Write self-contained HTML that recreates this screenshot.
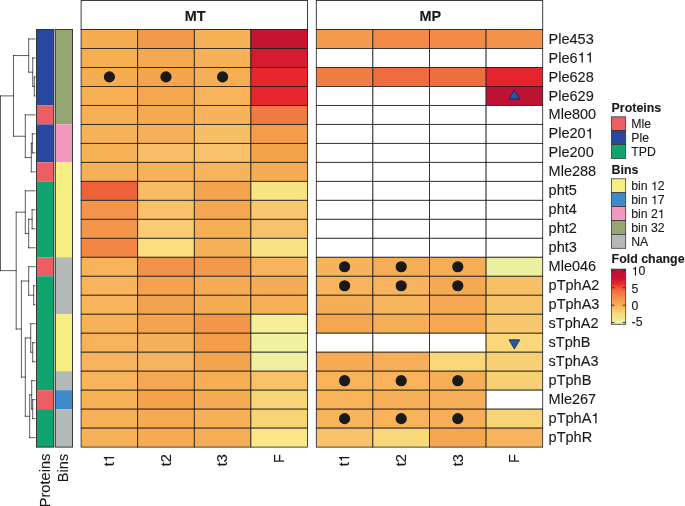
<!DOCTYPE html>
<html><head><meta charset="utf-8"><title>Heatmap</title>
<style>html,body{margin:0;padding:0;background:#fff;width:685px;height:506px;overflow:hidden}</style>
</head><body>
<svg width="685" height="506" viewBox="0 0 685 506" style="position:absolute;left:0;top:0;will-change:transform;font-kerning:none;font-family:'Liberation Sans',sans-serif">
<rect x="0" y="0" width="685" height="506" fill="#fff"/>
<rect x="81.1" y="0.5" width="226.40" height="28.95" fill="#fff" stroke="#2a2a2a" stroke-width="0.9"/>
<text transform="translate(195.10,21.00)" text-anchor="middle" font-size="14.4" fill="#1a1a1a" stroke="#1a1a1a" stroke-width="0.12" font-weight="bold">MT</text>
<rect x="81.10" y="29.45" width="56.60" height="18.98" fill="#F6AC50" stroke="#1c1c1c" stroke-width="0.8"/>
<rect x="137.70" y="29.45" width="56.60" height="18.98" fill="#F39A4A" stroke="#1c1c1c" stroke-width="0.8"/>
<rect x="194.30" y="29.45" width="56.60" height="18.98" fill="#F6B055" stroke="#1c1c1c" stroke-width="0.8"/>
<rect x="250.90" y="29.45" width="56.60" height="18.98" fill="#C41432" stroke="#1c1c1c" stroke-width="0.8"/>
<rect x="81.10" y="48.44" width="56.60" height="18.98" fill="#F7AE52" stroke="#1c1c1c" stroke-width="0.8"/>
<rect x="137.70" y="48.44" width="56.60" height="18.98" fill="#F5A850" stroke="#1c1c1c" stroke-width="0.8"/>
<rect x="194.30" y="48.44" width="56.60" height="18.98" fill="#F6B056" stroke="#1c1c1c" stroke-width="0.8"/>
<rect x="250.90" y="48.44" width="56.60" height="18.98" fill="#D41C30" stroke="#1c1c1c" stroke-width="0.8"/>
<rect x="81.10" y="67.42" width="56.60" height="18.98" fill="#F6AC50" stroke="#1c1c1c" stroke-width="0.8"/>
<rect x="137.70" y="67.42" width="56.60" height="18.98" fill="#F5A54E" stroke="#1c1c1c" stroke-width="0.8"/>
<rect x="194.30" y="67.42" width="56.60" height="18.98" fill="#F6AE54" stroke="#1c1c1c" stroke-width="0.8"/>
<rect x="250.90" y="67.42" width="56.60" height="18.98" fill="#E8262E" stroke="#1c1c1c" stroke-width="0.8"/>
<rect x="81.10" y="86.41" width="56.60" height="18.98" fill="#F7AF54" stroke="#1c1c1c" stroke-width="0.8"/>
<rect x="137.70" y="86.41" width="56.60" height="18.98" fill="#F5A64E" stroke="#1c1c1c" stroke-width="0.8"/>
<rect x="194.30" y="86.41" width="56.60" height="18.98" fill="#F7B25A" stroke="#1c1c1c" stroke-width="0.8"/>
<rect x="250.90" y="86.41" width="56.60" height="18.98" fill="#E8262E" stroke="#1c1c1c" stroke-width="0.8"/>
<rect x="81.10" y="105.39" width="56.60" height="18.98" fill="#F7B056" stroke="#1c1c1c" stroke-width="0.8"/>
<rect x="137.70" y="105.39" width="56.60" height="18.98" fill="#F6AA50" stroke="#1c1c1c" stroke-width="0.8"/>
<rect x="194.30" y="105.39" width="56.60" height="18.98" fill="#F7B45C" stroke="#1c1c1c" stroke-width="0.8"/>
<rect x="250.90" y="105.39" width="56.60" height="18.98" fill="#EF7A44" stroke="#1c1c1c" stroke-width="0.8"/>
<rect x="81.10" y="124.38" width="56.60" height="18.98" fill="#F7B258" stroke="#1c1c1c" stroke-width="0.8"/>
<rect x="137.70" y="124.38" width="56.60" height="18.98" fill="#F6B05A" stroke="#1c1c1c" stroke-width="0.8"/>
<rect x="194.30" y="124.38" width="56.60" height="18.98" fill="#F8BE66" stroke="#1c1c1c" stroke-width="0.8"/>
<rect x="250.90" y="124.38" width="56.60" height="18.98" fill="#F49C4A" stroke="#1c1c1c" stroke-width="0.8"/>
<rect x="81.10" y="143.36" width="56.60" height="18.98" fill="#F7B258" stroke="#1c1c1c" stroke-width="0.8"/>
<rect x="137.70" y="143.36" width="56.60" height="18.98" fill="#F8BE68" stroke="#1c1c1c" stroke-width="0.8"/>
<rect x="194.30" y="143.36" width="56.60" height="18.98" fill="#F8C068" stroke="#1c1c1c" stroke-width="0.8"/>
<rect x="250.90" y="143.36" width="56.60" height="18.98" fill="#F5A24C" stroke="#1c1c1c" stroke-width="0.8"/>
<rect x="81.10" y="162.34" width="56.60" height="18.98" fill="#F7B056" stroke="#1c1c1c" stroke-width="0.8"/>
<rect x="137.70" y="162.34" width="56.60" height="18.98" fill="#F7B258" stroke="#1c1c1c" stroke-width="0.8"/>
<rect x="194.30" y="162.34" width="56.60" height="18.98" fill="#F7B45A" stroke="#1c1c1c" stroke-width="0.8"/>
<rect x="250.90" y="162.34" width="56.60" height="18.98" fill="#F6AC50" stroke="#1c1c1c" stroke-width="0.8"/>
<rect x="81.10" y="181.33" width="56.60" height="18.98" fill="#EE623A" stroke="#1c1c1c" stroke-width="0.8"/>
<rect x="137.70" y="181.33" width="56.60" height="18.98" fill="#F8BC64" stroke="#1c1c1c" stroke-width="0.8"/>
<rect x="194.30" y="181.33" width="56.60" height="18.98" fill="#F5A44E" stroke="#1c1c1c" stroke-width="0.8"/>
<rect x="250.90" y="181.33" width="56.60" height="18.98" fill="#F8E484" stroke="#1c1c1c" stroke-width="0.8"/>
<rect x="81.10" y="200.31" width="56.60" height="18.98" fill="#F3944A" stroke="#1c1c1c" stroke-width="0.8"/>
<rect x="137.70" y="200.31" width="56.60" height="18.98" fill="#F8C068" stroke="#1c1c1c" stroke-width="0.8"/>
<rect x="194.30" y="200.31" width="56.60" height="18.98" fill="#F5A650" stroke="#1c1c1c" stroke-width="0.8"/>
<rect x="250.90" y="200.31" width="56.60" height="18.98" fill="#F8C870" stroke="#1c1c1c" stroke-width="0.8"/>
<rect x="81.10" y="219.30" width="56.60" height="18.98" fill="#F3964A" stroke="#1c1c1c" stroke-width="0.8"/>
<rect x="137.70" y="219.30" width="56.60" height="18.98" fill="#F8CC72" stroke="#1c1c1c" stroke-width="0.8"/>
<rect x="194.30" y="219.30" width="56.60" height="18.98" fill="#F6AE54" stroke="#1c1c1c" stroke-width="0.8"/>
<rect x="250.90" y="219.30" width="56.60" height="18.98" fill="#F8C26A" stroke="#1c1c1c" stroke-width="0.8"/>
<rect x="81.10" y="238.28" width="56.60" height="18.98" fill="#F28644" stroke="#1c1c1c" stroke-width="0.8"/>
<rect x="137.70" y="238.28" width="56.60" height="18.98" fill="#FADE80" stroke="#1c1c1c" stroke-width="0.8"/>
<rect x="194.30" y="238.28" width="56.60" height="18.98" fill="#F6B058" stroke="#1c1c1c" stroke-width="0.8"/>
<rect x="250.90" y="238.28" width="56.60" height="18.98" fill="#F9E284" stroke="#1c1c1c" stroke-width="0.8"/>
<rect x="81.10" y="257.27" width="56.60" height="18.98" fill="#F7B45A" stroke="#1c1c1c" stroke-width="0.8"/>
<rect x="137.70" y="257.27" width="56.60" height="18.98" fill="#F3924A" stroke="#1c1c1c" stroke-width="0.8"/>
<rect x="194.30" y="257.27" width="56.60" height="18.98" fill="#F4984C" stroke="#1c1c1c" stroke-width="0.8"/>
<rect x="250.90" y="257.27" width="56.60" height="18.98" fill="#F7B45C" stroke="#1c1c1c" stroke-width="0.8"/>
<rect x="81.10" y="276.25" width="56.60" height="18.98" fill="#F7B45A" stroke="#1c1c1c" stroke-width="0.8"/>
<rect x="137.70" y="276.25" width="56.60" height="18.98" fill="#F5A24E" stroke="#1c1c1c" stroke-width="0.8"/>
<rect x="194.30" y="276.25" width="56.60" height="18.98" fill="#F6AA52" stroke="#1c1c1c" stroke-width="0.8"/>
<rect x="250.90" y="276.25" width="56.60" height="18.98" fill="#F6AC54" stroke="#1c1c1c" stroke-width="0.8"/>
<rect x="81.10" y="295.24" width="56.60" height="18.98" fill="#F7B45A" stroke="#1c1c1c" stroke-width="0.8"/>
<rect x="137.70" y="295.24" width="56.60" height="18.98" fill="#F5A24E" stroke="#1c1c1c" stroke-width="0.8"/>
<rect x="194.30" y="295.24" width="56.60" height="18.98" fill="#F6AC54" stroke="#1c1c1c" stroke-width="0.8"/>
<rect x="250.90" y="295.24" width="56.60" height="18.98" fill="#F7B058" stroke="#1c1c1c" stroke-width="0.8"/>
<rect x="81.10" y="314.22" width="56.60" height="18.98" fill="#F7B258" stroke="#1c1c1c" stroke-width="0.8"/>
<rect x="137.70" y="314.22" width="56.60" height="18.98" fill="#F5A44E" stroke="#1c1c1c" stroke-width="0.8"/>
<rect x="194.30" y="314.22" width="56.60" height="18.98" fill="#F3964A" stroke="#1c1c1c" stroke-width="0.8"/>
<rect x="250.90" y="314.22" width="56.60" height="18.98" fill="#F6EE98" stroke="#1c1c1c" stroke-width="0.8"/>
<rect x="81.10" y="333.21" width="56.60" height="18.98" fill="#F7B25A" stroke="#1c1c1c" stroke-width="0.8"/>
<rect x="137.70" y="333.21" width="56.60" height="18.98" fill="#F7B05A" stroke="#1c1c1c" stroke-width="0.8"/>
<rect x="194.30" y="333.21" width="56.60" height="18.98" fill="#F49E4C" stroke="#1c1c1c" stroke-width="0.8"/>
<rect x="250.90" y="333.21" width="56.60" height="18.98" fill="#F0F2A0" stroke="#1c1c1c" stroke-width="0.8"/>
<rect x="81.10" y="352.19" width="56.60" height="18.98" fill="#F7B45C" stroke="#1c1c1c" stroke-width="0.8"/>
<rect x="137.70" y="352.19" width="56.60" height="18.98" fill="#F7B45E" stroke="#1c1c1c" stroke-width="0.8"/>
<rect x="194.30" y="352.19" width="56.60" height="18.98" fill="#F5A44E" stroke="#1c1c1c" stroke-width="0.8"/>
<rect x="250.90" y="352.19" width="56.60" height="18.98" fill="#F2F0A0" stroke="#1c1c1c" stroke-width="0.8"/>
<rect x="81.10" y="371.18" width="56.60" height="18.98" fill="#F8B45C" stroke="#1c1c1c" stroke-width="0.8"/>
<rect x="137.70" y="371.18" width="56.60" height="18.98" fill="#F5A852" stroke="#1c1c1c" stroke-width="0.8"/>
<rect x="194.30" y="371.18" width="56.60" height="18.98" fill="#F6AE56" stroke="#1c1c1c" stroke-width="0.8"/>
<rect x="250.90" y="371.18" width="56.60" height="18.98" fill="#F8C068" stroke="#1c1c1c" stroke-width="0.8"/>
<rect x="81.10" y="390.16" width="56.60" height="18.98" fill="#F7B258" stroke="#1c1c1c" stroke-width="0.8"/>
<rect x="137.70" y="390.16" width="56.60" height="18.98" fill="#F5A24C" stroke="#1c1c1c" stroke-width="0.8"/>
<rect x="194.30" y="390.16" width="56.60" height="18.98" fill="#F6AC54" stroke="#1c1c1c" stroke-width="0.8"/>
<rect x="250.90" y="390.16" width="56.60" height="18.98" fill="#F8D478" stroke="#1c1c1c" stroke-width="0.8"/>
<rect x="81.10" y="409.15" width="56.60" height="18.98" fill="#F7B258" stroke="#1c1c1c" stroke-width="0.8"/>
<rect x="137.70" y="409.15" width="56.60" height="18.98" fill="#F6AA54" stroke="#1c1c1c" stroke-width="0.8"/>
<rect x="194.30" y="409.15" width="56.60" height="18.98" fill="#F7B058" stroke="#1c1c1c" stroke-width="0.8"/>
<rect x="250.90" y="409.15" width="56.60" height="18.98" fill="#F8D476" stroke="#1c1c1c" stroke-width="0.8"/>
<rect x="81.10" y="428.13" width="56.60" height="18.98" fill="#F7B258" stroke="#1c1c1c" stroke-width="0.8"/>
<rect x="137.70" y="428.13" width="56.60" height="18.98" fill="#F6AA52" stroke="#1c1c1c" stroke-width="0.8"/>
<rect x="194.30" y="428.13" width="56.60" height="18.98" fill="#F6AE56" stroke="#1c1c1c" stroke-width="0.8"/>
<rect x="250.90" y="428.13" width="56.60" height="18.98" fill="#FAE688" stroke="#1c1c1c" stroke-width="0.8"/>
<circle cx="109.40" cy="76.91" r="5.6" fill="#1a1a1a"/>
<circle cx="166.00" cy="76.91" r="5.6" fill="#1a1a1a"/>
<circle cx="222.60" cy="76.91" r="5.6" fill="#1a1a1a"/>
<rect x="316.3" y="0.5" width="226.40" height="28.95" fill="#fff" stroke="#2a2a2a" stroke-width="0.9"/>
<text transform="translate(430.30,21.00)" text-anchor="middle" font-size="14.4" fill="#1a1a1a" stroke="#1a1a1a" stroke-width="0.12" font-weight="bold">MP</text>
<rect x="316.30" y="29.45" width="56.60" height="18.98" fill="#F49A4C" stroke="#1c1c1c" stroke-width="0.8"/>
<rect x="372.90" y="29.45" width="56.60" height="18.98" fill="#F28A48" stroke="#1c1c1c" stroke-width="0.8"/>
<rect x="429.50" y="29.45" width="56.60" height="18.98" fill="#F28A48" stroke="#1c1c1c" stroke-width="0.8"/>
<rect x="486.10" y="29.45" width="56.60" height="18.98" fill="#F3924A" stroke="#1c1c1c" stroke-width="0.8"/>
<rect x="316.30" y="48.44" width="56.60" height="18.98" fill="#ffffff" stroke="#1c1c1c" stroke-width="0.8"/>
<rect x="372.90" y="48.44" width="56.60" height="18.98" fill="#ffffff" stroke="#1c1c1c" stroke-width="0.8"/>
<rect x="429.50" y="48.44" width="56.60" height="18.98" fill="#ffffff" stroke="#1c1c1c" stroke-width="0.8"/>
<rect x="486.10" y="48.44" width="56.60" height="18.98" fill="#ffffff" stroke="#1c1c1c" stroke-width="0.8"/>
<rect x="316.30" y="67.42" width="56.60" height="18.98" fill="#F07E44" stroke="#1c1c1c" stroke-width="0.8"/>
<rect x="372.90" y="67.42" width="56.60" height="18.98" fill="#EE6C3E" stroke="#1c1c1c" stroke-width="0.8"/>
<rect x="429.50" y="67.42" width="56.60" height="18.98" fill="#EE6E3E" stroke="#1c1c1c" stroke-width="0.8"/>
<rect x="486.10" y="67.42" width="56.60" height="18.98" fill="#E5242E" stroke="#1c1c1c" stroke-width="0.8"/>
<rect x="316.30" y="86.41" width="56.60" height="18.98" fill="#ffffff" stroke="#1c1c1c" stroke-width="0.8"/>
<rect x="372.90" y="86.41" width="56.60" height="18.98" fill="#ffffff" stroke="#1c1c1c" stroke-width="0.8"/>
<rect x="429.50" y="86.41" width="56.60" height="18.98" fill="#ffffff" stroke="#1c1c1c" stroke-width="0.8"/>
<rect x="486.10" y="86.41" width="56.60" height="18.98" fill="#BE1234" stroke="#1c1c1c" stroke-width="0.8"/>
<rect x="316.30" y="105.39" width="56.60" height="18.98" fill="#ffffff" stroke="#1c1c1c" stroke-width="0.8"/>
<rect x="372.90" y="105.39" width="56.60" height="18.98" fill="#ffffff" stroke="#1c1c1c" stroke-width="0.8"/>
<rect x="429.50" y="105.39" width="56.60" height="18.98" fill="#ffffff" stroke="#1c1c1c" stroke-width="0.8"/>
<rect x="486.10" y="105.39" width="56.60" height="18.98" fill="#ffffff" stroke="#1c1c1c" stroke-width="0.8"/>
<rect x="316.30" y="124.38" width="56.60" height="18.98" fill="#ffffff" stroke="#1c1c1c" stroke-width="0.8"/>
<rect x="372.90" y="124.38" width="56.60" height="18.98" fill="#ffffff" stroke="#1c1c1c" stroke-width="0.8"/>
<rect x="429.50" y="124.38" width="56.60" height="18.98" fill="#ffffff" stroke="#1c1c1c" stroke-width="0.8"/>
<rect x="486.10" y="124.38" width="56.60" height="18.98" fill="#ffffff" stroke="#1c1c1c" stroke-width="0.8"/>
<rect x="316.30" y="143.36" width="56.60" height="18.98" fill="#ffffff" stroke="#1c1c1c" stroke-width="0.8"/>
<rect x="372.90" y="143.36" width="56.60" height="18.98" fill="#ffffff" stroke="#1c1c1c" stroke-width="0.8"/>
<rect x="429.50" y="143.36" width="56.60" height="18.98" fill="#ffffff" stroke="#1c1c1c" stroke-width="0.8"/>
<rect x="486.10" y="143.36" width="56.60" height="18.98" fill="#ffffff" stroke="#1c1c1c" stroke-width="0.8"/>
<rect x="316.30" y="162.34" width="56.60" height="18.98" fill="#ffffff" stroke="#1c1c1c" stroke-width="0.8"/>
<rect x="372.90" y="162.34" width="56.60" height="18.98" fill="#ffffff" stroke="#1c1c1c" stroke-width="0.8"/>
<rect x="429.50" y="162.34" width="56.60" height="18.98" fill="#ffffff" stroke="#1c1c1c" stroke-width="0.8"/>
<rect x="486.10" y="162.34" width="56.60" height="18.98" fill="#ffffff" stroke="#1c1c1c" stroke-width="0.8"/>
<rect x="316.30" y="181.33" width="56.60" height="18.98" fill="#ffffff" stroke="#1c1c1c" stroke-width="0.8"/>
<rect x="372.90" y="181.33" width="56.60" height="18.98" fill="#ffffff" stroke="#1c1c1c" stroke-width="0.8"/>
<rect x="429.50" y="181.33" width="56.60" height="18.98" fill="#ffffff" stroke="#1c1c1c" stroke-width="0.8"/>
<rect x="486.10" y="181.33" width="56.60" height="18.98" fill="#ffffff" stroke="#1c1c1c" stroke-width="0.8"/>
<rect x="316.30" y="200.31" width="56.60" height="18.98" fill="#ffffff" stroke="#1c1c1c" stroke-width="0.8"/>
<rect x="372.90" y="200.31" width="56.60" height="18.98" fill="#ffffff" stroke="#1c1c1c" stroke-width="0.8"/>
<rect x="429.50" y="200.31" width="56.60" height="18.98" fill="#ffffff" stroke="#1c1c1c" stroke-width="0.8"/>
<rect x="486.10" y="200.31" width="56.60" height="18.98" fill="#ffffff" stroke="#1c1c1c" stroke-width="0.8"/>
<rect x="316.30" y="219.30" width="56.60" height="18.98" fill="#ffffff" stroke="#1c1c1c" stroke-width="0.8"/>
<rect x="372.90" y="219.30" width="56.60" height="18.98" fill="#ffffff" stroke="#1c1c1c" stroke-width="0.8"/>
<rect x="429.50" y="219.30" width="56.60" height="18.98" fill="#ffffff" stroke="#1c1c1c" stroke-width="0.8"/>
<rect x="486.10" y="219.30" width="56.60" height="18.98" fill="#ffffff" stroke="#1c1c1c" stroke-width="0.8"/>
<rect x="316.30" y="238.28" width="56.60" height="18.98" fill="#ffffff" stroke="#1c1c1c" stroke-width="0.8"/>
<rect x="372.90" y="238.28" width="56.60" height="18.98" fill="#ffffff" stroke="#1c1c1c" stroke-width="0.8"/>
<rect x="429.50" y="238.28" width="56.60" height="18.98" fill="#ffffff" stroke="#1c1c1c" stroke-width="0.8"/>
<rect x="486.10" y="238.28" width="56.60" height="18.98" fill="#ffffff" stroke="#1c1c1c" stroke-width="0.8"/>
<rect x="316.30" y="257.27" width="56.60" height="18.98" fill="#F7B45C" stroke="#1c1c1c" stroke-width="0.8"/>
<rect x="372.90" y="257.27" width="56.60" height="18.98" fill="#F6AE56" stroke="#1c1c1c" stroke-width="0.8"/>
<rect x="429.50" y="257.27" width="56.60" height="18.98" fill="#F6AE56" stroke="#1c1c1c" stroke-width="0.8"/>
<rect x="486.10" y="257.27" width="56.60" height="18.98" fill="#EAF0A0" stroke="#1c1c1c" stroke-width="0.8"/>
<rect x="316.30" y="276.25" width="56.60" height="18.98" fill="#F7B45C" stroke="#1c1c1c" stroke-width="0.8"/>
<rect x="372.90" y="276.25" width="56.60" height="18.98" fill="#F7B45C" stroke="#1c1c1c" stroke-width="0.8"/>
<rect x="429.50" y="276.25" width="56.60" height="18.98" fill="#F5AA52" stroke="#1c1c1c" stroke-width="0.8"/>
<rect x="486.10" y="276.25" width="56.60" height="18.98" fill="#F8C066" stroke="#1c1c1c" stroke-width="0.8"/>
<rect x="316.30" y="295.24" width="56.60" height="18.98" fill="#F6AE56" stroke="#1c1c1c" stroke-width="0.8"/>
<rect x="372.90" y="295.24" width="56.60" height="18.98" fill="#F7B65E" stroke="#1c1c1c" stroke-width="0.8"/>
<rect x="429.50" y="295.24" width="56.60" height="18.98" fill="#F5A850" stroke="#1c1c1c" stroke-width="0.8"/>
<rect x="486.10" y="295.24" width="56.60" height="18.98" fill="#F8C46A" stroke="#1c1c1c" stroke-width="0.8"/>
<rect x="316.30" y="314.22" width="56.60" height="18.98" fill="#F5A64E" stroke="#1c1c1c" stroke-width="0.8"/>
<rect x="372.90" y="314.22" width="56.60" height="18.98" fill="#F6AE56" stroke="#1c1c1c" stroke-width="0.8"/>
<rect x="429.50" y="314.22" width="56.60" height="18.98" fill="#F5A850" stroke="#1c1c1c" stroke-width="0.8"/>
<rect x="486.10" y="314.22" width="56.60" height="18.98" fill="#F8C66C" stroke="#1c1c1c" stroke-width="0.8"/>
<rect x="316.30" y="333.21" width="56.60" height="18.98" fill="#ffffff" stroke="#1c1c1c" stroke-width="0.8"/>
<rect x="372.90" y="333.21" width="56.60" height="18.98" fill="#ffffff" stroke="#1c1c1c" stroke-width="0.8"/>
<rect x="429.50" y="333.21" width="56.60" height="18.98" fill="#ffffff" stroke="#1c1c1c" stroke-width="0.8"/>
<rect x="486.10" y="333.21" width="56.60" height="18.98" fill="#FAD87A" stroke="#1c1c1c" stroke-width="0.8"/>
<rect x="316.30" y="352.19" width="56.60" height="18.98" fill="#F6AA52" stroke="#1c1c1c" stroke-width="0.8"/>
<rect x="372.90" y="352.19" width="56.60" height="18.98" fill="#F6AE58" stroke="#1c1c1c" stroke-width="0.8"/>
<rect x="429.50" y="352.19" width="56.60" height="18.98" fill="#F9D87A" stroke="#1c1c1c" stroke-width="0.8"/>
<rect x="486.10" y="352.19" width="56.60" height="18.98" fill="#F8D074" stroke="#1c1c1c" stroke-width="0.8"/>
<rect x="316.30" y="371.18" width="56.60" height="18.98" fill="#F7B25A" stroke="#1c1c1c" stroke-width="0.8"/>
<rect x="372.90" y="371.18" width="56.60" height="18.98" fill="#F7B25A" stroke="#1c1c1c" stroke-width="0.8"/>
<rect x="429.50" y="371.18" width="56.60" height="18.98" fill="#F6AE56" stroke="#1c1c1c" stroke-width="0.8"/>
<rect x="486.10" y="371.18" width="56.60" height="18.98" fill="#F8D074" stroke="#1c1c1c" stroke-width="0.8"/>
<rect x="316.30" y="390.16" width="56.60" height="18.98" fill="#F7B25A" stroke="#1c1c1c" stroke-width="0.8"/>
<rect x="372.90" y="390.16" width="56.60" height="18.98" fill="#F7B058" stroke="#1c1c1c" stroke-width="0.8"/>
<rect x="429.50" y="390.16" width="56.60" height="18.98" fill="#F6AE58" stroke="#1c1c1c" stroke-width="0.8"/>
<rect x="486.10" y="390.16" width="56.60" height="18.98" fill="#ffffff" stroke="#1c1c1c" stroke-width="0.8"/>
<rect x="316.30" y="409.15" width="56.60" height="18.98" fill="#F7B45C" stroke="#1c1c1c" stroke-width="0.8"/>
<rect x="372.90" y="409.15" width="56.60" height="18.98" fill="#F7B25A" stroke="#1c1c1c" stroke-width="0.8"/>
<rect x="429.50" y="409.15" width="56.60" height="18.98" fill="#F6AE58" stroke="#1c1c1c" stroke-width="0.8"/>
<rect x="486.10" y="409.15" width="56.60" height="18.98" fill="#F8D476" stroke="#1c1c1c" stroke-width="0.8"/>
<rect x="316.30" y="428.13" width="56.60" height="18.98" fill="#F8C268" stroke="#1c1c1c" stroke-width="0.8"/>
<rect x="372.90" y="428.13" width="56.60" height="18.98" fill="#F9D87A" stroke="#1c1c1c" stroke-width="0.8"/>
<rect x="429.50" y="428.13" width="56.60" height="18.98" fill="#F5A64E" stroke="#1c1c1c" stroke-width="0.8"/>
<rect x="486.10" y="428.13" width="56.60" height="18.98" fill="#F7B45C" stroke="#1c1c1c" stroke-width="0.8"/>
<circle cx="344.60" cy="266.76" r="5.6" fill="#1a1a1a"/>
<circle cx="401.20" cy="266.76" r="5.6" fill="#1a1a1a"/>
<circle cx="457.80" cy="266.76" r="5.6" fill="#1a1a1a"/>
<circle cx="344.60" cy="285.75" r="5.6" fill="#1a1a1a"/>
<circle cx="401.20" cy="285.75" r="5.6" fill="#1a1a1a"/>
<circle cx="457.80" cy="285.75" r="5.6" fill="#1a1a1a"/>
<circle cx="344.60" cy="380.67" r="5.6" fill="#1a1a1a"/>
<circle cx="401.20" cy="380.67" r="5.6" fill="#1a1a1a"/>
<circle cx="457.80" cy="380.67" r="5.6" fill="#1a1a1a"/>
<circle cx="344.60" cy="418.64" r="5.6" fill="#1a1a1a"/>
<circle cx="401.20" cy="418.64" r="5.6" fill="#1a1a1a"/>
<circle cx="457.80" cy="418.64" r="5.6" fill="#1a1a1a"/>
<polygon points="514.40,90.0 519.80,99.1 509.00,99.1" fill="#2458A8" stroke="#1c2340" stroke-width="0.8"/>
<polygon points="509.00,339.8 519.80,339.8 514.40,349.0" fill="#2458A8" stroke="#1c2340" stroke-width="0.8"/>
<rect x="36.5" y="29.45" width="17.30" height="75.94" fill="#27489E"/>
<rect x="36.5" y="105.39" width="17.30" height="18.98" fill="#EC5E64"/>
<rect x="36.5" y="124.38" width="17.30" height="37.97" fill="#27489E"/>
<rect x="36.5" y="162.34" width="17.30" height="18.98" fill="#EC5E64"/>
<rect x="36.5" y="181.33" width="17.30" height="75.94" fill="#0FA36E"/>
<rect x="36.5" y="257.27" width="17.30" height="18.98" fill="#EC5E64"/>
<rect x="36.5" y="276.25" width="17.30" height="113.91" fill="#0FA36E"/>
<rect x="36.5" y="390.16" width="17.30" height="18.98" fill="#EC5E64"/>
<rect x="36.5" y="409.15" width="17.30" height="37.97" fill="#0FA36E"/>
<rect x="36.5" y="29.45" width="17.30" height="417.67" fill="none" stroke="#2a2a2a" stroke-width="0.9"/>
<rect x="55.3" y="29.45" width="17.20" height="94.92" fill="#95A672"/>
<rect x="55.3" y="124.38" width="17.20" height="37.97" fill="#F298BE"/>
<rect x="55.3" y="162.34" width="17.20" height="94.92" fill="#F6EE82"/>
<rect x="55.3" y="257.27" width="17.20" height="56.95" fill="#B4B8B8"/>
<rect x="55.3" y="314.22" width="17.20" height="56.95" fill="#F6EE82"/>
<rect x="55.3" y="371.18" width="17.20" height="18.98" fill="#B4B8B8"/>
<rect x="55.3" y="390.16" width="17.20" height="18.98" fill="#3C8CCC"/>
<rect x="55.3" y="409.15" width="17.20" height="37.97" fill="#B4B8B8"/>
<rect x="55.3" y="29.45" width="17.20" height="417.67" fill="none" stroke="#2a2a2a" stroke-width="0.9"/>
<path d="M34.30 76.91L34.30 95.90M34.30 76.91L35.00 76.91M34.30 95.90L35.00 95.90M32.70 57.93L32.70 86.41M32.70 57.93L35.00 57.93M32.70 86.41L34.30 86.41M28.70 38.94L28.70 72.17M28.70 38.94L35.00 38.94M28.70 72.17L32.70 72.17M32.30 133.87L32.30 152.85M32.30 133.87L35.00 133.87M32.30 152.85L35.00 152.85M31.30 143.36L31.30 171.84M31.30 143.36L32.30 143.36M31.30 171.84L35.00 171.84M25.30 114.88L25.30 157.60M25.30 114.88L35.00 114.88M25.30 157.60L31.30 157.60M13.50 55.55L13.50 136.24M13.50 55.55L28.70 55.55M13.50 136.24L25.30 136.24M32.10 209.81L32.10 228.79M32.10 209.81L35.00 209.81M32.10 228.79L35.00 228.79M28.70 219.30L28.70 247.78M28.70 219.30L32.10 219.30M28.70 247.78L35.00 247.78M25.30 190.82L25.30 233.54M25.30 190.82L35.00 190.82M25.30 233.54L28.70 233.54M33.70 285.75L33.70 304.73M33.70 285.75L35.00 285.75M33.70 304.73L35.00 304.73M28.70 266.76L28.70 295.24M28.70 266.76L35.00 266.76M28.70 295.24L33.70 295.24M32.70 342.70L32.70 361.69M32.70 342.70L35.00 342.70M32.70 361.69L35.00 361.69M30.70 323.72L30.70 352.19M30.70 323.72L35.00 323.72M30.70 352.19L32.70 352.19M32.70 399.66L32.70 418.64M32.70 399.66L35.00 399.66M32.70 418.64L35.00 418.64M31.70 380.67L31.70 409.15M31.70 380.67L35.00 380.67M31.70 409.15L32.70 409.15M29.70 394.91L29.70 437.63M29.70 394.91L31.70 394.91M29.70 437.63L35.00 437.63M25.30 337.96L25.30 416.27M25.30 337.96L30.70 337.96M25.30 416.27L29.70 416.27M21.40 281.00L21.40 377.11M21.40 281.00L28.70 281.00M21.40 377.11L25.30 377.11M16.20 212.18L16.20 329.06M16.20 212.18L25.30 212.18M16.20 329.06L21.40 329.06M0.50 95.90L0.50 270.62M0.50 95.90L13.50 95.90M0.50 270.62L16.20 270.62" fill="none" stroke="#1a1a1a" stroke-width="0.7" stroke-linecap="square"/>
<text transform="translate(548.60,43.54)" text-anchor="start" font-size="14.5" fill="#1a1a1a" stroke="#1a1a1a" stroke-width="0.12">Ple453</text>
<g transform="translate(548.60,62.53)">
<text x="0.00" y="0" font-size="14.5" fill="#1a1a1a" stroke="#1a1a1a" stroke-width="0.12">Ple6</text>
<path transform="translate(29.02,0) scale(0.01450,-0.01450)" d="M359 0L272 0L272 505L101 505L101 566C195 570 262 610 292 709L359 709Z" fill="#1a1a1a" stroke="#1a1a1a" stroke-width="5.0"/>
<path transform="translate(37.09,0) scale(0.01450,-0.01450)" d="M359 0L272 0L272 505L101 505L101 566C195 570 262 610 292 709L359 709Z" fill="#1a1a1a" stroke="#1a1a1a" stroke-width="5.0"/>
</g>
<text transform="translate(548.60,81.51)" text-anchor="start" font-size="14.5" fill="#1a1a1a" stroke="#1a1a1a" stroke-width="0.12">Ple628</text>
<text transform="translate(548.60,100.50)" text-anchor="start" font-size="14.5" fill="#1a1a1a" stroke="#1a1a1a" stroke-width="0.12">Ple629</text>
<text transform="translate(548.60,119.48)" text-anchor="start" font-size="14.5" fill="#1a1a1a" stroke="#1a1a1a" stroke-width="0.12">Mle800</text>
<g transform="translate(548.60,138.47)">
<text x="0.00" y="0" font-size="14.5" fill="#1a1a1a" stroke="#1a1a1a" stroke-width="0.12">Ple20</text>
<path transform="translate(37.09,0) scale(0.01450,-0.01450)" d="M359 0L272 0L272 505L101 505L101 566C195 570 262 610 292 709L359 709Z" fill="#1a1a1a" stroke="#1a1a1a" stroke-width="5.0"/>
</g>
<text transform="translate(548.60,157.45)" text-anchor="start" font-size="14.5" fill="#1a1a1a" stroke="#1a1a1a" stroke-width="0.12">Ple200</text>
<text transform="translate(548.60,176.44)" text-anchor="start" font-size="14.5" fill="#1a1a1a" stroke="#1a1a1a" stroke-width="0.12">Mle288</text>
<text transform="translate(548.60,195.42)" text-anchor="start" font-size="14.5" fill="#1a1a1a" stroke="#1a1a1a" stroke-width="0.12">pht5</text>
<text transform="translate(548.60,214.41)" text-anchor="start" font-size="14.5" fill="#1a1a1a" stroke="#1a1a1a" stroke-width="0.12">pht4</text>
<text transform="translate(548.60,233.39)" text-anchor="start" font-size="14.5" fill="#1a1a1a" stroke="#1a1a1a" stroke-width="0.12">pht2</text>
<text transform="translate(548.60,252.38)" text-anchor="start" font-size="14.5" fill="#1a1a1a" stroke="#1a1a1a" stroke-width="0.12">pht3</text>
<text transform="translate(548.60,271.36)" text-anchor="start" font-size="14.5" fill="#1a1a1a" stroke="#1a1a1a" stroke-width="0.12">Mle046</text>
<text transform="translate(548.60,290.35)" text-anchor="start" font-size="14.5" fill="#1a1a1a" stroke="#1a1a1a" stroke-width="0.12">pTphA2</text>
<text transform="translate(548.60,309.33)" text-anchor="start" font-size="14.5" fill="#1a1a1a" stroke="#1a1a1a" stroke-width="0.12">pTphA3</text>
<text transform="translate(548.60,328.32)" text-anchor="start" font-size="14.5" fill="#1a1a1a" stroke="#1a1a1a" stroke-width="0.12">sTphA2</text>
<text transform="translate(548.60,347.30)" text-anchor="start" font-size="14.5" fill="#1a1a1a" stroke="#1a1a1a" stroke-width="0.12">sTphB</text>
<text transform="translate(548.60,366.29)" text-anchor="start" font-size="14.5" fill="#1a1a1a" stroke="#1a1a1a" stroke-width="0.12">sTphA3</text>
<text transform="translate(548.60,385.27)" text-anchor="start" font-size="14.5" fill="#1a1a1a" stroke="#1a1a1a" stroke-width="0.12">pTphB</text>
<text transform="translate(548.60,404.26)" text-anchor="start" font-size="14.5" fill="#1a1a1a" stroke="#1a1a1a" stroke-width="0.12">Mle267</text>
<g transform="translate(548.60,423.24)">
<text x="0.00" y="0" font-size="14.5" fill="#1a1a1a" stroke="#1a1a1a" stroke-width="0.12">pTphA</text>
<path transform="translate(42.72,0) scale(0.01450,-0.01450)" d="M359 0L272 0L272 505L101 505L101 566C195 570 262 610 292 709L359 709Z" fill="#1a1a1a" stroke="#1a1a1a" stroke-width="5.0"/>
</g>
<text transform="translate(548.60,442.23)" text-anchor="start" font-size="14.5" fill="#1a1a1a" stroke="#1a1a1a" stroke-width="0.12">pTphR</text>
<g transform="translate(114.10,454.20) rotate(-90)">
<text x="-12.09" y="0" font-size="14.5" fill="#1a1a1a" stroke="#1a1a1a" stroke-width="0.12">t</text>
<path transform="translate(-8.06,0) scale(0.01450,-0.01450)" d="M359 0L272 0L272 505L101 505L101 566C195 570 262 610 292 709L359 709Z" fill="#1a1a1a" stroke="#1a1a1a" stroke-width="5.0"/>
</g>
<text transform="translate(170.70,454.20) rotate(-90)" text-anchor="end" font-size="14.5" fill="#1a1a1a" stroke="#1a1a1a" stroke-width="0.12">t2</text>
<text transform="translate(227.30,454.20) rotate(-90)" text-anchor="end" font-size="14.5" fill="#1a1a1a" stroke="#1a1a1a" stroke-width="0.12">t3</text>
<text transform="translate(283.90,454.20) rotate(-90)" text-anchor="end" font-size="14.5" fill="#1a1a1a" stroke="#1a1a1a" stroke-width="0.12">F</text>
<g transform="translate(349.30,454.20) rotate(-90)">
<text x="-12.09" y="0" font-size="14.5" fill="#1a1a1a" stroke="#1a1a1a" stroke-width="0.12">t</text>
<path transform="translate(-8.06,0) scale(0.01450,-0.01450)" d="M359 0L272 0L272 505L101 505L101 566C195 570 262 610 292 709L359 709Z" fill="#1a1a1a" stroke="#1a1a1a" stroke-width="5.0"/>
</g>
<text transform="translate(405.90,454.20) rotate(-90)" text-anchor="end" font-size="14.5" fill="#1a1a1a" stroke="#1a1a1a" stroke-width="0.12">t2</text>
<text transform="translate(462.50,454.20) rotate(-90)" text-anchor="end" font-size="14.5" fill="#1a1a1a" stroke="#1a1a1a" stroke-width="0.12">t3</text>
<text transform="translate(519.10,454.20) rotate(-90)" text-anchor="end" font-size="14.5" fill="#1a1a1a" stroke="#1a1a1a" stroke-width="0.12">F</text>
<text transform="translate(50.30,453.70) rotate(-90)" text-anchor="end" font-size="14.6" fill="#1a1a1a" stroke="#1a1a1a" stroke-width="0.12">Proteins</text>
<text transform="translate(68.30,453.90) rotate(-90)" text-anchor="end" font-size="14.6" fill="#1a1a1a" stroke="#1a1a1a" stroke-width="0.12">Bins</text>
<text transform="translate(611.60,111.80)" text-anchor="start" font-size="12.4" fill="#1a1a1a" stroke="#1a1a1a" stroke-width="0.12" font-weight="bold">Proteins</text>
<rect x="611.4" y="116.80" width="14.3" height="13.9" fill="#EC5E64" stroke="#333" stroke-width="0.75"/>
<text transform="translate(631.20,128.35)" text-anchor="start" font-size="12.3" fill="#1a1a1a" stroke="#1a1a1a" stroke-width="0.12">Mle</text>
<rect x="611.4" y="130.70" width="14.3" height="13.9" fill="#27489E" stroke="#333" stroke-width="0.75"/>
<text transform="translate(631.20,142.25)" text-anchor="start" font-size="12.3" fill="#1a1a1a" stroke="#1a1a1a" stroke-width="0.12">Ple</text>
<rect x="611.4" y="144.60" width="14.3" height="13.9" fill="#0FA36E" stroke="#333" stroke-width="0.75"/>
<text transform="translate(631.20,156.15)" text-anchor="start" font-size="12.3" fill="#1a1a1a" stroke="#1a1a1a" stroke-width="0.12">TPD</text>
<text transform="translate(611.60,174.10)" text-anchor="start" font-size="12.4" fill="#1a1a1a" stroke="#1a1a1a" stroke-width="0.12" font-weight="bold">Bins</text>
<rect x="611.4" y="178.80" width="14.3" height="13.9" fill="#F6EE82" stroke="#333" stroke-width="0.75"/>
<g transform="translate(631.20,190.35)">
<text x="0.00" y="0" font-size="12.3" fill="#1a1a1a" stroke="#1a1a1a" stroke-width="0.12">bin </text>
<path transform="translate(19.83,0) scale(0.01230,-0.01230)" d="M359 0L272 0L272 505L101 505L101 566C195 570 262 610 292 709L359 709Z" fill="#1a1a1a" stroke="#1a1a1a" stroke-width="5.9"/>
<text x="26.67" y="0" font-size="12.3" fill="#1a1a1a" stroke="#1a1a1a" stroke-width="0.12">2</text>
</g>
<rect x="611.4" y="192.70" width="14.3" height="13.9" fill="#3C8CCC" stroke="#333" stroke-width="0.75"/>
<g transform="translate(631.20,204.25)">
<text x="0.00" y="0" font-size="12.3" fill="#1a1a1a" stroke="#1a1a1a" stroke-width="0.12">bin </text>
<path transform="translate(19.83,0) scale(0.01230,-0.01230)" d="M359 0L272 0L272 505L101 505L101 566C195 570 262 610 292 709L359 709Z" fill="#1a1a1a" stroke="#1a1a1a" stroke-width="5.9"/>
<text x="26.67" y="0" font-size="12.3" fill="#1a1a1a" stroke="#1a1a1a" stroke-width="0.12">7</text>
</g>
<rect x="611.4" y="206.60" width="14.3" height="13.9" fill="#F298BE" stroke="#333" stroke-width="0.75"/>
<g transform="translate(631.20,218.15)">
<text x="0.00" y="0" font-size="12.3" fill="#1a1a1a" stroke="#1a1a1a" stroke-width="0.12">bin 2</text>
<path transform="translate(26.67,0) scale(0.01230,-0.01230)" d="M359 0L272 0L272 505L101 505L101 566C195 570 262 610 292 709L359 709Z" fill="#1a1a1a" stroke="#1a1a1a" stroke-width="5.9"/>
</g>
<rect x="611.4" y="220.50" width="14.3" height="13.9" fill="#95A672" stroke="#333" stroke-width="0.75"/>
<text transform="translate(631.20,232.05)" text-anchor="start" font-size="12.3" fill="#1a1a1a" stroke="#1a1a1a" stroke-width="0.12">bin 32</text>
<rect x="611.4" y="234.40" width="14.3" height="13.9" fill="#B4B8B8" stroke="#333" stroke-width="0.75"/>
<text transform="translate(631.20,245.95)" text-anchor="start" font-size="12.3" fill="#1a1a1a" stroke="#1a1a1a" stroke-width="0.12">NA</text>
<defs><linearGradient id="fc" x1="0" y1="0" x2="0" y2="1">
<stop offset="0" stop-color="#BA1038"/>
<stop offset="0.156" stop-color="#C41436"/>
<stop offset="0.22" stop-color="#DA1E30"/>
<stop offset="0.265" stop-color="#E8282E"/>
<stop offset="0.345" stop-color="#EE5A3A"/>
<stop offset="0.5" stop-color="#F28C46"/>
<stop offset="0.655" stop-color="#F6AE55"/>
<stop offset="0.81" stop-color="#F9DA7A"/>
<stop offset="0.97" stop-color="#EBF2A0"/>
<stop offset="1" stop-color="#EBF2A0"/>
</linearGradient></defs>
<text transform="translate(611.60,263.10)" text-anchor="start" font-size="12.4" fill="#1a1a1a" stroke="#1a1a1a" stroke-width="0.12" font-weight="bold">Fold change</text>
<rect x="611.4" y="269.1" width="14.3" height="55.20" fill="url(#fc)" stroke="#3a3a3a" stroke-width="0.8"/>
<path d="M611.4 270.3h3M625.6999999999999 270.3h-3" stroke="#2a2a2a" stroke-width="0.9"/>
<path d="M611.4 287.8h3M625.6999999999999 287.8h-3" stroke="#2a2a2a" stroke-width="0.9"/>
<path d="M611.4 305.2h3M625.6999999999999 305.2h-3" stroke="#2a2a2a" stroke-width="0.9"/>
<path d="M611.4 322.6h3M625.6999999999999 322.6h-3" stroke="#2a2a2a" stroke-width="0.9"/>
<g transform="translate(631.60,275.40)">
<path transform="translate(0.00,0) scale(0.01230,-0.01230)" d="M359 0L272 0L272 505L101 505L101 566C195 570 262 610 292 709L359 709Z" fill="#1a1a1a" stroke="#1a1a1a" stroke-width="5.9"/>
<text x="6.84" y="0" font-size="12.3" fill="#1a1a1a" stroke="#1a1a1a" stroke-width="0.12">0</text>
</g>
<text transform="translate(631.60,292.90)" text-anchor="start" font-size="12.3" fill="#1a1a1a" stroke="#1a1a1a" stroke-width="0.12">5</text>
<text transform="translate(631.60,309.60)" text-anchor="start" font-size="12.3" fill="#1a1a1a" stroke="#1a1a1a" stroke-width="0.12">0</text>
<text transform="translate(631.60,326.20)" text-anchor="start" font-size="12.3" fill="#1a1a1a" stroke="#1a1a1a" stroke-width="0.12">-5</text>
</svg>
</body></html>
